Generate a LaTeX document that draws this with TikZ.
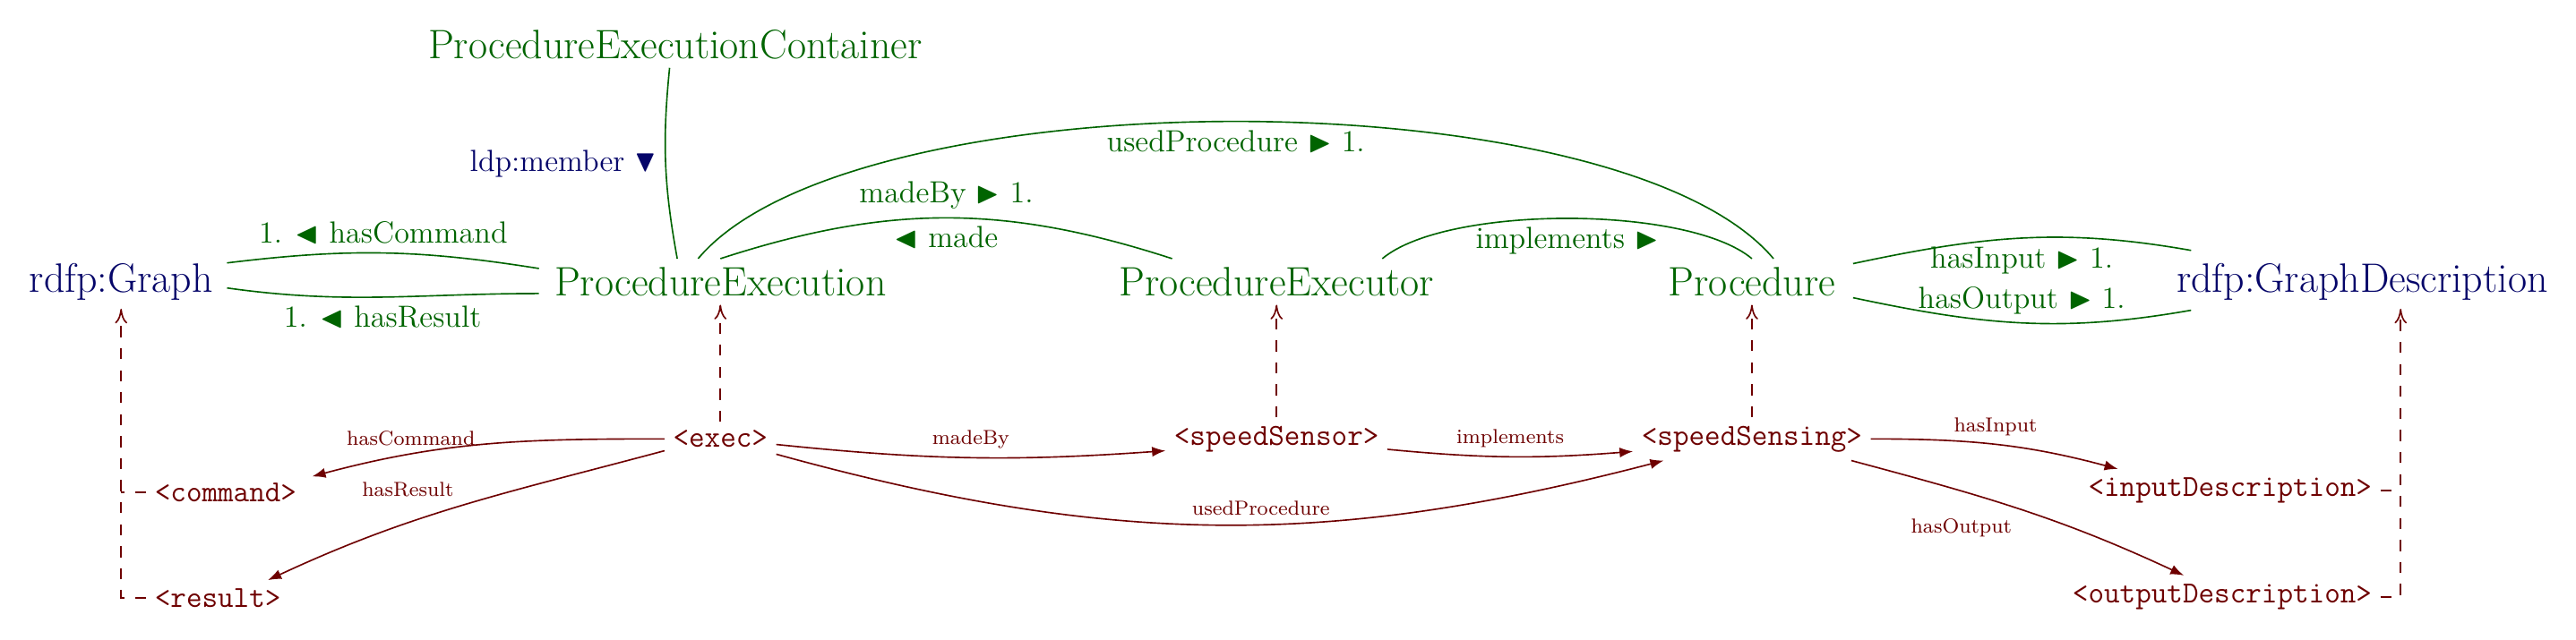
\documentclass[tikz,border=0pt]{standalone}
\definecolor{classgreen}{RGB}{0,100,0}
\definecolor{graphnavy}{RGB}{5,5,105}
\definecolor{instred}{RGB}{110,0,0}
\usepackage{tikz}
\usetikzlibrary{calc, positioning, arrows.meta}
\usepackage{amsmath,amssymb}

\tikzset{
  classnode/.style={text=classgreen, font=\fontsize{16.8}{20}\selectfont},
  graphnode/.style={text=graphnavy, font=\fontsize{16.8}{20}\selectfont},
  instnode/.style={text=instred, font=\fontsize{12.5}{15}\selectfont\ttfamily},
  classrel/.style={draw=classgreen, semithick},
  rellabel/.style={text=classgreen, font=\fontsize{12.5}{15}\selectfont},
  instrel/.style={draw=instred, semithick, -{Latex[length=5.5pt]}},
  instlabel/.style={text=instred, font=\fontsize{8.3}{10}\selectfont},
  typeline/.style={draw=instred, semithick, dash pattern=on 4.5pt off 4.5pt},
  typearrow/.style={typeline, -{To[length=6pt,width=5pt]}},
}

\begin{document}
\begin{tikzpicture}
    \useasboundingbox (0,0) rectangle (37.01,-9.19);

    % classes
    \node[graphnode] (graph) at (1.74,-4.05) {rdfp:Graph};
    \node[classnode] (pexec) at (10.35,-4.05) {ProcedureExecution};
    \node[classnode] (pexecutor) at (18.34,-4.05) {ProcedureExecutor};
    \node[classnode] (proc) at (25.17,-4.05) {Procedure};
    \node[graphnode] (gdesc) at (33.94,-4.05) {rdfp:GraphDescription};
    \node[classnode] (container) at (9.70,-0.64) {ProcedureExecutionContainer};

    % instances
    \node[instnode] (exec) at (10.35,-6.31) {<exec>};
    \node[instnode] (sensor) at (18.34,-6.31) {<speedSensor>};
    \node[instnode] (sensing) at (25.17,-6.31) {<speedSensing>};
    \node[instnode, anchor=west] (command) at (2.10,-7.08) {<command>};
    \node[instnode, anchor=west] (result) at (2.10,-8.60) {<result>};
    \node[instnode, anchor=east] (inputDesc) at (34.20,-7.05) {<inputDescription>};
    \node[instnode, anchor=east] (outputDesc) at (34.20,-8.58) {<outputDescription>};

    % class level relations
    \draw[classrel] ([shift={(0.08,0.27)}]graph.east) to[bend left=8]
      node[rellabel, above] {1. $\blacktriangleleft$ hasCommand} ([shift={(-0.1,0.19)}]pexec.west);
    \draw[classrel] ([shift={(0.08,-0.09)}]graph.east) to[out=-8,in=180]
      node[rellabel, below] {1. $\blacktriangleleft$ hasResult} ([shift={(-0.1,-0.17)}]pexec.west);
    \draw[classrel] ([xshift=-0.08cm]container.south) to[bend right=8]
      node[left, text=graphnavy, font=\fontsize{12.5}{15}\selectfont] {ldp:member $\blacktriangledown$} ([xshift=-0.62cm]pexec.north);
    \draw[classrel] ([xshift=-0.32cm]pexec.north) to[out=50,in=130,looseness=0.57]
      node[rellabel, below] {usedProcedure $\blacktriangleright$ 1.} ([xshift=0.31cm]proc.north);
    \draw[classrel] (pexec.north) to[bend left=18]
      node[rellabel, above] {madeBy $\blacktriangleright$ 1.}
      node[rellabel, below] {$\blacktriangleleft$ made} ([xshift=-1.5cm]pexecutor.north);
    \draw[classrel] ([xshift=1.52cm]pexecutor.north) to[out=40,in=140,looseness=0.58]
      node[rellabel, below] {implements $\blacktriangleright$} (proc.north);
    \draw[classrel] ([shift={(0.13,0.26)}]proc.east) to[out=12,in=170]
      node[rellabel, below] {hasInput $\blacktriangleright$ 1.} ([shift={(0.33,0.45)}]gdesc.west);
    \draw[classrel] ([shift={(0.13,-0.23)}]proc.east) to[out=-12,in=-170]
      node[rellabel, above] {hasOutput $\blacktriangleright$ 1.} ([shift={(0.33,-0.41)}]gdesc.west);

    % instance level relations
    \draw[instrel] (exec.west) to[out=180,in=15]
      node[instlabel, above, pos=0.73] {hasCommand} ([shift={(0.1,0.23)}]command.east);
    \draw[instrel] ([yshift=-0.17cm]exec.west) to[out=195,in=25]
      node[instlabel, above left, pos=0.5] {hasResult} ([xshift=0.72cm]result.north);
    \draw[instrel] ([yshift=-0.08cm]exec.east) to[bend right=5]
      node[instlabel, above] {madeBy} ([yshift=-0.17cm]sensor.west);
    \draw[instrel] ([yshift=-0.22cm]exec.east) to[bend right=15]
      node[instlabel, above, pos=0.55] {usedProcedure} ([xshift=0.44cm]sensing.south west);
    \draw[instrel] ([yshift=-0.15cm]sensor.east) to[bend right=5]
      node[instlabel, above] {implements} ([yshift=-0.18cm]sensing.west);
    \draw[instrel] (sensing.east) to[out=0,in=165]
      node[instlabel, above] {hasInput} ([xshift=0.55cm]inputDesc.north west);
    \draw[instrel] ([xshift=-0.28cm]sensing.south east) to[out=-15,in=155]
      node[instlabel, below left] {hasOutput} ([xshift=-0.55cm]outputDesc.north);

    % rdf:type
    \draw[typearrow] (exec) -- (pexec);
    \draw[typearrow] (sensor) -- (pexecutor);
    \draw[typearrow] (sensing) -- (proc);
    \draw[typearrow] (result.west) -| (graph.south);
    \draw[typeline] (command.west) -- (command.west -| graph.south);
    \coordinate (gdescfoot) at ([xshift=0.55cm]gdesc.south);
    \draw[typearrow] (outputDesc.east) -| (gdescfoot);
    \draw[typeline] (inputDesc.east) -- (inputDesc.east -| gdescfoot);
\end{tikzpicture}
\end{document}
